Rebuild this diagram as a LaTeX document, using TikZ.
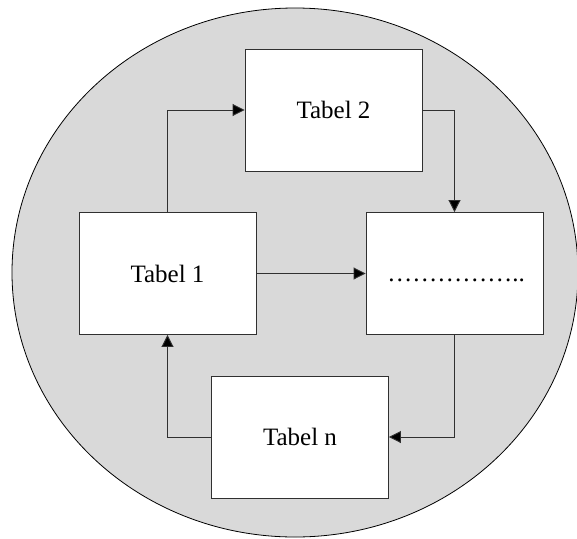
\documentclass[tikz,border=0pt]{standalone}
\usepackage{fontspec}
\setmainfont{Liberation Serif}
\usetikzlibrary{arrows.meta}
\definecolor{bggray}{HTML}{D9D9D9}
\definecolor{edgegray}{HTML}{303030}
\tikzset{
  tbl/.style={draw=edgegray, fill=white, line width=0.9pt, minimum width=177pt, minimum height=122pt, inner sep=0pt, font=\fontsize{25}{29}\selectfont},
  conn/.style={draw=edgegray, line width=0.9pt, -{Triangle[length=12pt,width=12pt,fill=black]}},
}
\begin{document}
\begin{tikzpicture}[x=1pt,y=-1pt]
\useasboundingbox (0,0) rectangle (577,538);
\draw[fill=bggray, line width=0.8pt] (295,272.5) ellipse [x radius=283, y radius=264.5];
\node[tbl] (t2) at (333.5,110) {Tabel 2};
\node[tbl] (t1) at (167.5,273.5) {Tabel 1};
\node[tbl] (d) at (454.5,273.5) {};
\node[tbl] (tn) at (300,437) {Tabel n};
\node[anchor=base, inner sep=0pt, font=\fontsize{25}{29}\selectfont] (dots) at (456,281) {……………..};
\draw[conn] (t1.north) |- (t2.west);
\draw[conn] (t2.east) -| (d.north);
\draw[conn] (t1.east) -- (d.west);
\draw[conn] (d.south) |- (tn.east);
\draw[conn] (tn.west) -| (t1.south);
\end{tikzpicture}
\end{document}
